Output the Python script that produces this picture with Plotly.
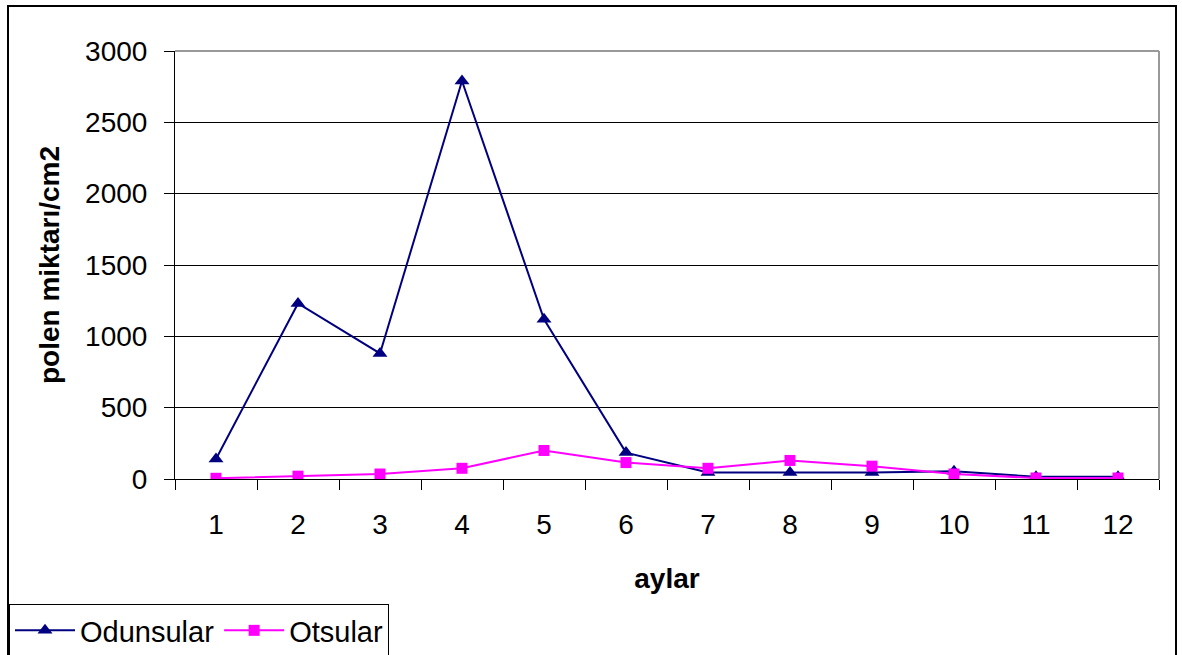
import plotly.graph_objects as go

# Monthly pollen counts (per cm2)
months = ["1", "2", "3", "4", "5", "6", "7", "8", "9", "10", "11", "12"]
odunsular = [140, 1230, 880, 2790, 1120, 185, 45, 45, 45, 55, 15, 15]
otsular = [5, 20, 35, 75, 200, 115, 75, 130, 90, 35, 7, 7]

y_ticks = [0, 500, 1000, 1500, 2000, 2500, 3000]

FONT = "Arial, Liberation Sans, sans-serif"

# Plot area in pixels
W, H = 1182, 655
L, R, T, B = 175, 1159, 51, 479
pw, ph = R - L, B - T


def px(x):
    return (x - L) / pw


def py(y):
    return (B - y) / ph


fig = go.Figure()
fig.add_trace(go.Scatter(
    x=months, y=odunsular, name="Odunsular", mode="lines+markers",
    line=dict(color="#000080", width=2),
    marker=dict(symbol="triangle-up", size=13, color="#000080"),
))
fig.add_trace(go.Scatter(
    x=months, y=otsular, name="Otsular", mode="lines+markers",
    line=dict(color="#FF00FF", width=2),
    marker=dict(symbol="square", size=11, color="#FF00FF"),
))

shapes = [
    # plot area frame (top and right)
    dict(type="line", xref="paper", yref="paper", x0=0, x1=1, y0=1, y1=1,
         line=dict(color="#999999", width=2)),
    dict(type="line", xref="paper", yref="paper", x0=1, x1=1, y0=0, y1=1,
         line=dict(color="#999999", width=2)),
    # outer chart border
    dict(type="rect", xref="paper", yref="paper",
         x0=px(8), x1=px(1176), y0=py(6), y1=py(670),
         line=dict(color="black", width=2), fillcolor="rgba(0,0,0,0)"),
]

fig.update_layout(
    width=W, height=H,
    margin=dict(l=L, r=W - R, t=T, b=H - B, autoexpand=False),
    paper_bgcolor="white", plot_bgcolor="white",
    font=dict(family=FONT, size=28, color="black"),
    showlegend=True,
    legend=dict(
        orientation="h", x=px(9), y=py(604), xanchor="left", yanchor="top",
        bordercolor="black", borderwidth=1, bgcolor="white",
        font=dict(family=FONT, size=29), itemwidth=60,
    ),
    shapes=shapes,
    xaxis=dict(
        type="category", range=[-0.5, 11.5], tickson="boundaries",
        ticks="outside", ticklen=10,
        tickcolor="black", tickwidth=1, showgrid=False,
        showline=True, linecolor="black", linewidth=1,
        tickfont=dict(size=28), ticklabelstandoff=20,
        title=dict(text="<b>aylar</b>", font=dict(size=28), standoff=29),
    ),
    yaxis=dict(
        range=[0, 3000], tickvals=y_ticks, ticks="outside", ticklen=10,
        tickcolor="black", tickwidth=1,
        showgrid=True, gridcolor="black", gridwidth=1,
        showline=True, linecolor="black", linewidth=1, zeroline=False,
        tickfont=dict(size=28), ticklabelstandoff=11,
        title=dict(text="<b>polen miktarı/cm2</b>", font=dict(size=28), standoff=17),
    ),
)

fig.write_html("out.html")
